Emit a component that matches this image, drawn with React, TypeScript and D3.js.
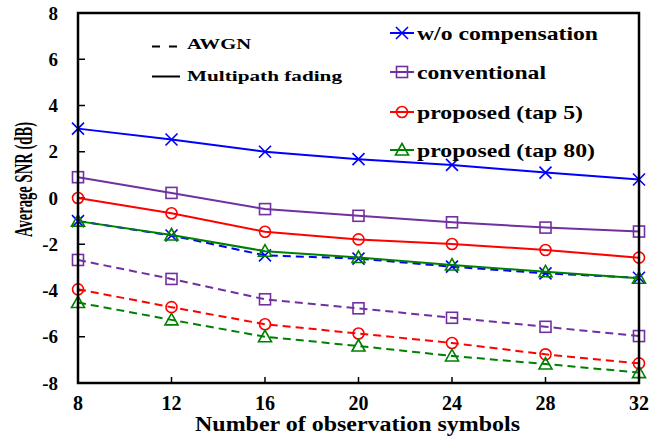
import React from 'react'
import * as d3 from 'd3'

const symbols = [8, 12, 16, 20, 24, 28, 32]
const yTicks = [-8, -6, -4, -2, 0, 2, 4, 6, 8]

// multipath fading (solid)
const woCompFading = [3.0, 2.53, 2.0, 1.68, 1.43, 1.1, 0.8]
const convFading = [0.9, 0.22, -0.48, -0.77, -1.05, -1.28, -1.45]
const tap5Fading = [0.0, -0.66, -1.46, -1.79, -1.99, -2.25, -2.58]
const tap80Fading = [-1.0, -1.6, -2.3, -2.57, -2.9, -3.19, -3.47]

// AWGN (dashed)
const woCompAwgn = [-1.0, -1.62, -2.48, -2.62, -2.97, -3.26, -3.45]
const convAwgn = [-2.68, -3.5, -4.38, -4.77, -5.18, -5.57, -5.97]
const tap5Awgn = [-3.95, -4.72, -5.46, -5.86, -6.27, -6.76, -7.15]
const tap80Awgn = [-4.52, -5.27, -6.0, -6.4, -6.83, -7.18, -7.55]

type Marker = 'x' | 'square' | 'circle' | 'triangle'
type Series = { name: string; color: string; marker: Marker; fading: number[]; awgn: number[]; textW: number }

const series: Series[] = [
  { name: 'w/o compensation', color: '#0000ff', marker: 'x', fading: woCompFading, awgn: woCompAwgn, textW: 181 },
  { name: 'conventional', color: '#7030a0', marker: 'square', fading: convFading, awgn: convAwgn, textW: 129 },
  { name: 'proposed (tap 5)', color: '#ff0000', marker: 'circle', fading: tap5Fading, awgn: tap5Awgn, textW: 166 },
  { name: 'proposed (tap 80)', color: '#008000', marker: 'triangle', fading: tap80Fading, awgn: tap80Awgn, textW: 178 },
]

const W = 668
const H = 445
const m = { left: 78, right: 639, top: 13, bottom: 383 }
const font = 'Liberation Serif, DejaVu Serif, serif'

function MarkerShape({ kind, x, y, color }: { kind: Marker; x: number; y: number; color: string }) {
  const s = 6
  if (kind === 'x')
    return (
      <path
        d={`M${x - s},${y - s}L${x + s},${y + s}M${x - s},${y + s}L${x + s},${y - s}`}
        stroke={color}
        strokeWidth={1.6}
        fill="none"
      />
    )
  if (kind === 'square')
    return <rect x={x - 5.5} y={y - 5.5} width={11} height={11} fill="none" stroke={color} strokeWidth={1.6} />
  if (kind === 'circle') return <circle cx={x} cy={y} r={5.5} fill="none" stroke={color} strokeWidth={1.6} />
  return (
    <path
      d={`M${x},${y - 6.5}L${x + 6.5},${y + 5}L${x - 6.5},${y + 5}Z`}
      fill="none"
      stroke={color}
      strokeWidth={1.6}
    />
  )
}

export default function App() {
  const x = d3.scaleLinear().domain([8, 32]).range([m.left, m.right])
  const y = d3.scaleLinear().domain([-8, 8]).range([m.bottom, m.top])
  const line = d3
    .line<number>()
    .x((_, i) => x(symbols[i]))
    .y((d) => y(d))

  const legX = 390
  const legY = [33, 72, 112, 150]

  return (
    <svg
      width={W}
      height={H}
      style={{ position: 'absolute', left: 0, top: 0, background: '#fff' }}
      fontFamily={font}
      fontWeight="bold"
    >
      {/* ticks */}
      {yTicks.map((t) => (
        <g key={'y' + t}>
          <line x1={m.left} x2={m.left + 7} y1={y(t)} y2={y(t)} stroke="#000" strokeWidth={1.5} />
          <text x={58} y={y(t)} dy="0.35em" textAnchor="end" fontSize={19}>
            {t}
          </text>
        </g>
      ))}
      {symbols.map((t) => (
        <g key={'x' + t}>
          <line x1={x(t)} x2={x(t)} y1={m.bottom} y2={m.bottom - 6} stroke="#000" strokeWidth={1.5} />
          <text x={x(t)} y={410} textAnchor="middle" fontSize={20}>
            {t}
          </text>
        </g>
      ))}

      {/* data */}
      {series.map((s) => (
        <g key={s.name + 'awgn'}>
          <path d={line(s.awgn) || ''} fill="none" stroke={s.color} strokeWidth={2} strokeDasharray="8,5" />
          {s.awgn.map((v, i) => (
            <MarkerShape key={i} kind={s.marker} x={x(symbols[i])} y={y(v)} color={s.color} />
          ))}
        </g>
      ))}
      {series.map((s) => (
        <g key={s.name + 'fad'}>
          <path d={line(s.fading) || ''} fill="none" stroke={s.color} strokeWidth={2} />
          {s.fading.map((v, i) => (
            <MarkerShape key={i} kind={s.marker} x={x(symbols[i])} y={y(v)} color={s.color} />
          ))}
        </g>
      ))}

      {/* frame */}
      <rect
        x={m.left}
        y={m.top}
        width={m.right - m.left}
        height={m.bottom - m.top}
        fill="none"
        stroke="#000"
        strokeWidth={2.5}
      />

      {/* series legend */}
      {series.map((s, i) => (
        <g key={s.name + 'leg'}>
          <line x1={legX} x2={legX + 24} y1={legY[i]} y2={legY[i]} stroke={s.color} strokeWidth={2} />
          <MarkerShape kind={s.marker} x={legX + 12} y={legY[i]} color={s.color} />
          <text
            x={417}
            y={legY[i] + 7}
            fontSize={19}
            textLength={s.textW}
            lengthAdjust="spacingAndGlyphs"
          >
            {s.name}
          </text>
        </g>
      ))}

      {/* line-style legend */}
      <line x1={152} x2={178} y1={46.5} y2={46.5} stroke="#000" strokeWidth={2} strokeDasharray="8,9" />
      <text x={187} y={48.5} fontSize={15} textLength={64} lengthAdjust="spacingAndGlyphs">
        AWGN
      </text>
      <line x1={152} x2={180} y1={76.5} y2={76.5} stroke="#000" strokeWidth={2} />
      <text x={187} y={80.5} fontSize={15} textLength={155} lengthAdjust="spacingAndGlyphs">
        Multipath fading
      </text>

      {/* axis titles */}
      <text x={195} y={431} fontSize={20} textLength={325} lengthAdjust="spacingAndGlyphs">
        Number of observation symbols
      </text>
      <text
        transform="translate(32,179.5) rotate(-90)"
        textAnchor="middle"
        fontSize={26}
        textLength={115}
        lengthAdjust="spacingAndGlyphs"
      >
        Average SNR (dB)
      </text>
    </svg>
  )
}
